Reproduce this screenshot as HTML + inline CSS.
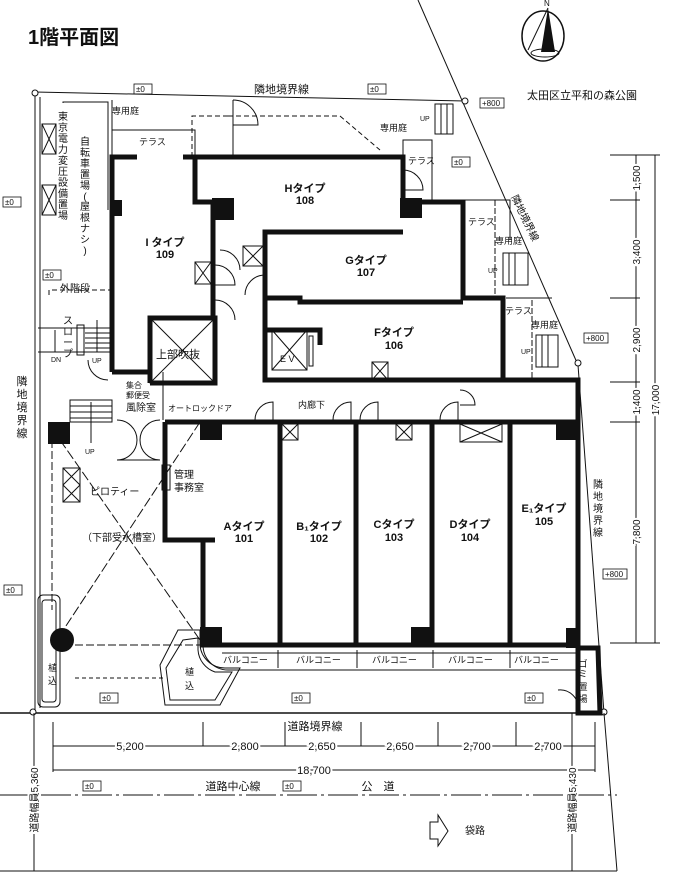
<!DOCTYPE html>
<html><head><meta charset="utf-8"><style>
html,body{margin:0;padding:0;background:#fff;}
svg{display:block;font-family:"Liberation Sans","Noto Sans CJK JP",sans-serif;}
text{fill:#111;}
</style></head><body>
<svg width="677" height="891" viewBox="0 0 677 891" xmlns="http://www.w3.org/2000/svg">
<rect width="677" height="891" fill="#fff"/>
<!-- title -->
<text x="28" y="44" font-size="20" font-weight="bold">1階平面図</text>
<!-- compass -->
<ellipse cx="543" cy="36" rx="21" ry="25" fill="none" stroke="#111" stroke-width="1.5"/>
<polygon points="548,8 541,52 555,52" fill="#111"/>
<line x1="548" y1="8" x2="528" y2="50" stroke="#111"/>
<ellipse cx="545" cy="53" rx="14" ry="4" fill="none" stroke="#111"/>
<text x="544" y="6" font-size="8">N</text>
<text x="527" y="99" font-size="11">太田区立平和の森公園</text>

<g stroke="#111" fill="none" stroke-width="1">
<!-- site boundary -->
<line x1="35" y1="92" x2="465" y2="101"/>
<line x1="418" y1="0" x2="578" y2="365"/>
<line x1="578" y1="365" x2="604" y2="713"/>
<line x1="35" y1="92" x2="35" y2="713"/>
<line x1="40" y1="97" x2="40" y2="708"/>
<line x1="0" y1="713" x2="604" y2="713" stroke-width="1.5"/>
<circle cx="35" cy="93" r="3" fill="#fff"/>
<circle cx="465" cy="101" r="3" fill="#fff"/>
<circle cx="578" cy="363" r="3" fill="#fff"/>
<circle cx="33" cy="712" r="3" fill="#fff"/>
<circle cx="604" cy="712" r="3" fill="#fff"/>
<!-- inner fences -->
<polyline points="63,103 63,102 108,102 108,210"/>
<line x1="112" y1="100" x2="112" y2="157"/>
<polyline points="112,130 195,130 195,157"/>
<polyline points="192,157 192,116 228,116" stroke-dasharray="5,3"/>
<polyline points="228,116 340,116 380,150" stroke-dasharray="5,3"/>
<line x1="233" y1="100" x2="233" y2="157"/>
<path d="M233,100 A25,25 0 0 1 258,125 L233,125"/>
<polyline points="403,155 403,140 432,140 432,200"/>
<polyline points="463,200 510,200 510,240"/>
<line x1="495" y1="200" x2="495" y2="298" stroke-dasharray="6,2"/>
<line x1="506" y1="298" x2="552" y2="298"/>
<line x1="532" y1="300" x2="532" y2="380" stroke-dasharray="6,2"/>
<!-- stairs right -->
<rect x="435" y="104" width="18" height="30"/><line x1="441" y1="104" x2="441" y2="134"/><line x1="447" y1="104" x2="447" y2="134"/>
<rect x="503" y="253" width="25" height="32"/><line x1="509" y1="253" x2="509" y2="285"/><line x1="515" y1="253" x2="515" y2="285"/>
<rect x="536" y="335" width="22" height="32"/><line x1="542" y1="335" x2="542" y2="367"/><line x1="548" y1="335" x2="548" y2="367"/>
<!-- electric equip -->
<rect x="42" y="124" width="14" height="30"/><path d="M42,124 L56,154 M56,124 L42,154"/>
<rect x="42" y="185" width="14" height="30"/><path d="M42,185 L56,215 M56,185 L42,215"/>
<!-- left stairs area -->
<polyline points="49,295 49,290 78,290 110,290" stroke-dasharray="5,3"/>
<line x1="38" y1="328" x2="110" y2="328"/>
<line x1="38" y1="352" x2="110" y2="352"/>
<rect x="77" y="325" width="7" height="30"/>
<line x1="85" y1="333" x2="110" y2="333"/><line x1="85" y1="338" x2="110" y2="338"/><line x1="85" y1="343" x2="110" y2="343"/><line x1="85" y1="348" x2="110" y2="348"/>
<line x1="55" y1="330" x2="55" y2="352"/><line x1="97" y1="320" x2="97" y2="352"/>
<path d="M88,360 A20,20 0 0 0 108,380"/>
<!-- entrance stairs -->
<rect x="70" y="400" width="42" height="22"/>
<line x1="70" y1="406" x2="112" y2="406"/><line x1="70" y1="412" x2="112" y2="412"/><line x1="70" y1="418" x2="112" y2="418"/>
<line x1="91" y1="402" x2="91" y2="443"/>
<path d="M117,420 A20,20 0 0 1 137,440 A20,20 0 0 1 117,460"/>
<path d="M160,420 A20,20 0 0 0 140,440 A20,20 0 0 0 160,460"/>
<line x1="117" y1="460" x2="160" y2="460"/>
<line x1="163" y1="372" x2="163" y2="420"/>
<!-- pilotis X -->
<line x1="60" y1="440" x2="200" y2="640" stroke-dasharray="10,3"/>
<line x1="200" y1="422" x2="62" y2="632" stroke-dasharray="10,3"/>
<line x1="52" y1="440" x2="52" y2="610" stroke-dasharray="8,3"/>
<rect x="63" y="468" width="17" height="34"/><path d="M63,468 L80,485 M80,468 L63,485 M63,485 L80,502 M80,485 L63,502"/>
<line x1="75" y1="645" x2="200" y2="645" stroke-dasharray="8,3"/>
<line x1="75" y1="678" x2="165" y2="678" stroke-dasharray="4,3"/>
<!-- planters -->
<rect x="38" y="595" width="22" height="112" rx="5"/>
<rect x="42" y="600" width="14" height="102" rx="3"/>
<path d="M178,630 L200,630 L200,645 A25,25 0 0 0 225,668 L240,668 L220,705 L165,705 L160,665 Z"/>
<path d="M183,640 L198,638 L198,650 A25,25 0 0 0 215,672 L232,672 L215,700 L170,700 L166,668 Z"/>
<!-- balcony -->
<line x1="222" y1="653" x2="578" y2="653"/>
<path d="M203,645 A25,25 0 0 0 228,670 L578,670"/>
<line x1="278" y1="650" x2="278" y2="668"/><line x1="357" y1="650" x2="357" y2="668"/><line x1="433" y1="650" x2="433" y2="668"/><line x1="510" y1="650" x2="510" y2="668"/>
<path d="M558,690 A18,18 0 0 1 578,710"/>
<!-- doors -->
<path d="M215,265 A20,20 0 0 1 235,285 L215,285"/>
<path d="M265,275 A20,20 0 0 0 245,295"/>
<path d="M240,270 A20,20 0 0 0 220,250"/>
<path d="M215,300 A20,20 0 0 1 235,320"/>
<path d="M255,420 A18,18 0 0 1 273,402 L273,420"/>
<path d="M333,420 A18,18 0 0 1 351,402 L351,420"/>
<path d="M360,420 A18,18 0 0 1 378,402 L378,420"/>
<path d="M440,420 A18,18 0 0 1 458,402 L458,420"/>
<path d="M460,390 A15,15 0 0 1 475,405 L460,405"/>
<path d="M403,170 A20,20 0 0 1 423,190 L403,190"/>
<!-- X boxes -->
<rect x="195" y="262" width="16" height="22"/><path d="M195,262 L211,284 M211,262 L195,284"/>
<rect x="243" y="246" width="20" height="20"/><path d="M243,246 L263,266 M263,246 L243,266"/>
<rect x="150" y="318" width="65" height="65"/><path d="M150,318 L215,383 M215,318 L150,383"/>
<rect x="272" y="330" width="35" height="40"/><path d="M272,330 L307,370 M307,330 L272,370"/>
<rect x="372" y="362" width="16" height="18"/><path d="M372,362 L388,380 M388,362 L372,380"/>
<rect x="282" y="424" width="16" height="16"/><path d="M282,424 L298,440 M298,424 L282,440"/>
<rect x="396" y="424" width="16" height="16"/><path d="M396,424 L412,440 M412,424 L396,440"/>
<rect x="460" y="424" width="42" height="18"/><path d="M460,424 L502,442 M502,424 L460,442"/>
<rect x="162" y="465" width="8" height="25"/>
<rect x="309" y="336" width="4" height="30"/>
<!-- right dims -->
<line x1="636" y1="155" x2="636" y2="643"/>
<line x1="655" y1="155" x2="655" y2="643"/>
<line x1="610" y1="155" x2="660" y2="155"/><line x1="610" y1="200" x2="640" y2="200"/><line x1="610" y1="298" x2="640" y2="298"/><line x1="610" y1="382" x2="640" y2="382"/><line x1="610" y1="422" x2="640" y2="422"/><line x1="610" y1="643" x2="660" y2="643"/>
<!-- bottom dims -->
<line x1="53" y1="746" x2="595" y2="746"/>
<line x1="53" y1="770" x2="595" y2="770"/>
<line x1="53" y1="722" x2="53" y2="772"/><line x1="203" y1="722" x2="203" y2="746"/><line x1="285" y1="722" x2="285" y2="746"/><line x1="361" y1="722" x2="361" y2="746"/><line x1="438" y1="722" x2="438" y2="746"/><line x1="516" y1="722" x2="516" y2="746"/><line x1="595" y1="722" x2="595" y2="772"/>
<line x1="0" y1="795" x2="617" y2="795" stroke-dasharray="30,4,3,4"/>
<line x1="0" y1="871" x2="617" y2="871"/>
<line x1="604" y1="713" x2="617" y2="871"/>
<line x1="34" y1="713" x2="34" y2="871"/>
<line x1="572" y1="713" x2="572" y2="871"/>
<path d="M430,822 L438,822 L438,815 L448,831 L438,846 L438,839 L430,839 Z"/>
</g>

<!-- thick walls -->
<g stroke="#111" fill="none" stroke-width="5" stroke-linejoin="miter">
<polyline points="112,372 112,157 137,157"/>
<polyline points="183,157 403,157 403,202 463,202 463,298 503,298 503,380"/>
<polyline points="195,157 195,202 213,202 213,318"/>
<polyline points="150,383 150,318 215,318 215,383 150,383"/>
<polyline points="112,372 150,372"/>
<polyline points="265,298 265,232 403,232"/>
<polyline points="265,298 300,298 300,302 463,302"/>
<polyline points="265,298 265,380 578,380 578,645"/>
<polyline points="265,330 320,330 320,345"/>
<polyline points="165,422 578,422"/>
<polyline points="165,422 165,540 215,540"/>
<polyline points="203,540 203,645 578,645"/>
<line x1="280" y1="422" x2="280" y2="645"/>
<line x1="356" y1="422" x2="356" y2="645"/>
<line x1="432" y1="422" x2="432" y2="645"/>
<line x1="510" y1="422" x2="510" y2="645"/>
<polyline points="578,645 578,713 600,713 598,648 578,648"/>
</g>
<!-- pillars -->
<g fill="#111">
<rect x="110" y="200" width="12" height="16"/>
<rect x="212" y="198" width="22" height="22"/>
<rect x="400" y="198" width="22" height="20"/>
<rect x="200" y="422" width="22" height="18"/>
<rect x="200" y="627" width="22" height="18"/>
<rect x="411" y="627" width="22" height="18"/>
<rect x="556" y="422" width="22" height="18"/>
<rect x="566" y="628" width="14" height="20"/>
<rect x="48" y="422" width="22" height="22"/>
<circle cx="62" cy="640" r="12"/>
</g>

<!-- labels -->
<g font-size="9">
<text x="254" y="93" font-size="11">隣地境界線</text>
<text x="112" y="114">専用庭</text>
<text x="139" y="145">テラス</text>
<text x="380" y="131">専用庭</text>
<text x="408" y="164">テラス</text>
<text x="468" y="225">テラス</text>
<text x="495" y="244">専用庭</text>
<text x="505" y="314">テラス</text>
<text x="531" y="328">専用庭</text>
<text x="420" y="121" font-size="7">UP</text>
<text x="488" y="273" font-size="7">UP</text>
<text x="521" y="354" font-size="7">UP</text>
<text x="60" y="292" font-size="10">外階段</text>
<text x="51" y="362" font-size="7">DN</text>
<text x="92" y="363" font-size="7">UP</text>
<text x="85" y="454" font-size="7">UP</text>
<text x="156" y="358" font-size="11">上部吹抜</text>
<text x="280" y="362" font-size="9">E V</text>
<text x="126" y="388" font-size="8">集合</text>
<text x="126" y="398" font-size="8">郵便受</text>
<text x="126" y="411" font-size="10">風除室</text>
<text x="168" y="411" font-size="8">オートロックドア</text>
<text x="298" y="408" font-size="9">内廊下</text>
<text x="90" y="495" font-size="10">ピロティー</text>
<text x="82" y="541" font-size="10">（下部受水槽室）</text>
<text x="174" y="478" font-size="10">管理</text>
<text x="174" y="491" font-size="10">事務室</text>
<text x="185" y="675" font-size="9">植</text>
<text x="185" y="689" font-size="9">込</text>
<text x="48" y="671" font-size="9">植</text>
<text x="48" y="684" font-size="9">込</text>
<text x="223" y="663">バルコニー</text>
<text x="296" y="663">バルコニー</text>
<text x="372" y="663">バルコニー</text>
<text x="448" y="663">バルコニー</text>
<text x="514" y="663">バルコニー</text>
</g>
<g font-size="11" font-weight="bold" text-anchor="middle">
<text x="165" y="246">I タイプ</text><text x="165" y="258">109</text>
<text x="305" y="192">Hタイプ</text><text x="305" y="204">108</text>
<text x="366" y="264">Gタイプ</text><text x="366" y="276">107</text>
<text x="394" y="336">Fタイプ</text><text x="394" y="349">106</text>
<text x="244" y="530">Aタイプ</text><text x="244" y="542">101</text>
<text x="319" y="530">B₁タイプ</text><text x="319" y="542">102</text>
<text x="394" y="528">Cタイプ</text><text x="394" y="541">103</text>
<text x="470" y="528">Dタイプ</text><text x="470" y="541">104</text>
<text x="544" y="512">E₁タイプ</text><text x="544" y="525">105</text>
</g>
<!-- vertical text -->
<g font-size="10" text-anchor="middle">
<text x="63" y="120">東</text><text x="63" y="131">京</text><text x="63" y="142">電</text><text x="63" y="153">力</text><text x="63" y="164">変</text><text x="63" y="175">圧</text><text x="63" y="186">設</text><text x="63" y="197">備</text><text x="63" y="208">置</text><text x="63" y="219">場</text>
<text x="85" y="145">自</text><text x="85" y="156">転</text><text x="85" y="167">車</text><text x="85" y="178">置</text><text x="85" y="189">場</text><text x="85" y="200">(</text><text x="85" y="210">屋</text><text x="85" y="221">根</text><text x="85" y="232">ナ</text><text x="85" y="243">シ</text><text x="85" y="254">)</text>
<text x="68" y="324">ス</text><text x="68" y="335">ロ</text><text x="68" y="346">ー</text><text x="68" y="357">プ</text>
<text x="22" y="385" font-size="11">隣</text><text x="22" y="398" font-size="11">地</text><text x="22" y="411" font-size="11">境</text><text x="22" y="424" font-size="11">界</text><text x="22" y="437" font-size="11">線</text>
<text x="598" y="488">隣</text><text x="598" y="500">地</text><text x="598" y="512">境</text><text x="598" y="524">界</text><text x="598" y="536">線</text>
<text x="583" y="667" font-size="9">ゴ</text><text x="583" y="677" font-size="9">ミ</text><text x="583" y="690" font-size="9">置</text><text x="583" y="702" font-size="9">場</text>
</g>
<text x="0" y="0" font-size="10" transform="translate(511,197) rotate(64)">隣地境界線</text>
<!-- level boxes -->
<g font-size="8">
<rect x="134" y="84" width="18" height="10" fill="none" stroke="#111" stroke-width="0.8"/><text x="136" y="92">±0</text>
<rect x="368" y="84" width="18" height="10" fill="none" stroke="#111" stroke-width="0.8"/><text x="370" y="92">±0</text>
<rect x="480" y="98" width="24" height="10" fill="none" stroke="#111" stroke-width="0.8"/><text x="482" y="106">+800</text>
<rect x="452" y="157" width="18" height="10" fill="none" stroke="#111" stroke-width="0.8"/><text x="454" y="165">±0</text>
<rect x="584" y="333" width="24" height="10" fill="none" stroke="#111" stroke-width="0.8"/><text x="586" y="341">+800</text>
<rect x="603" y="569" width="24" height="10" fill="none" stroke="#111" stroke-width="0.8"/><text x="605" y="577">+800</text>
<rect x="3" y="197" width="18" height="10" fill="none" stroke="#111" stroke-width="0.8"/><text x="5" y="205">±0</text>
<rect x="43" y="270" width="18" height="10" fill="none" stroke="#111" stroke-width="0.8"/><text x="45" y="278">±0</text>
<rect x="4" y="585" width="18" height="10" fill="none" stroke="#111" stroke-width="0.8"/><text x="6" y="593">±0</text>
<rect x="100" y="693" width="18" height="10" fill="none" stroke="#111" stroke-width="0.8"/><text x="102" y="701">±0</text>
<rect x="292" y="693" width="18" height="10" fill="none" stroke="#111" stroke-width="0.8"/><text x="294" y="701">±0</text>
<rect x="525" y="693" width="18" height="10" fill="none" stroke="#111" stroke-width="0.8"/><text x="527" y="701">±0</text>
<rect x="83" y="781" width="18" height="10" fill="none" stroke="#111" stroke-width="0.8"/><text x="85" y="789">±0</text>
<rect x="283" y="781" width="18" height="10" fill="none" stroke="#111" stroke-width="0.8"/><text x="285" y="789">±0</text>
</g>
<!-- dim labels -->
<g font-size="11" text-anchor="middle">
<text x="315" y="730">道路境界線</text>
<text x="130" y="750" style="paint-order:stroke" stroke="#fff" stroke-width="4">5,200</text>
<text x="245" y="750" style="paint-order:stroke" stroke="#fff" stroke-width="4">2,800</text>
<text x="322" y="750" style="paint-order:stroke" stroke="#fff" stroke-width="4">2,650</text>
<text x="400" y="750" style="paint-order:stroke" stroke="#fff" stroke-width="4">2,650</text>
<text x="477" y="750" style="paint-order:stroke" stroke="#fff" stroke-width="4">2,700</text>
<text x="548" y="750" style="paint-order:stroke" stroke="#fff" stroke-width="4">2,700</text>
<text x="314" y="774" style="paint-order:stroke" stroke="#fff" stroke-width="4">18,700</text>
<text x="233" y="790">道路中心線</text>
<text x="378" y="790">公　道</text>
<text x="475" y="834" font-size="10">袋路</text>
</g>
<g font-size="10" text-anchor="middle" style="paint-order:stroke" stroke="#fff" stroke-width="4">
<text transform="translate(640,178) rotate(-90)">1,500</text>
<text transform="translate(640,252) rotate(-90)">3,400</text>
<text transform="translate(640,340) rotate(-90)">2,900</text>
<text transform="translate(640,402) rotate(-90)">1,400</text>
<text transform="translate(640,532) rotate(-90)">7,800</text>
<text transform="translate(659,400) rotate(-90)">17,000</text>
<text transform="translate(38,800) rotate(-90)">道路幅員5,360</text>
<text transform="translate(576,800) rotate(-90)">道路幅員5,430</text>
</g>
</svg>
</body></html>
